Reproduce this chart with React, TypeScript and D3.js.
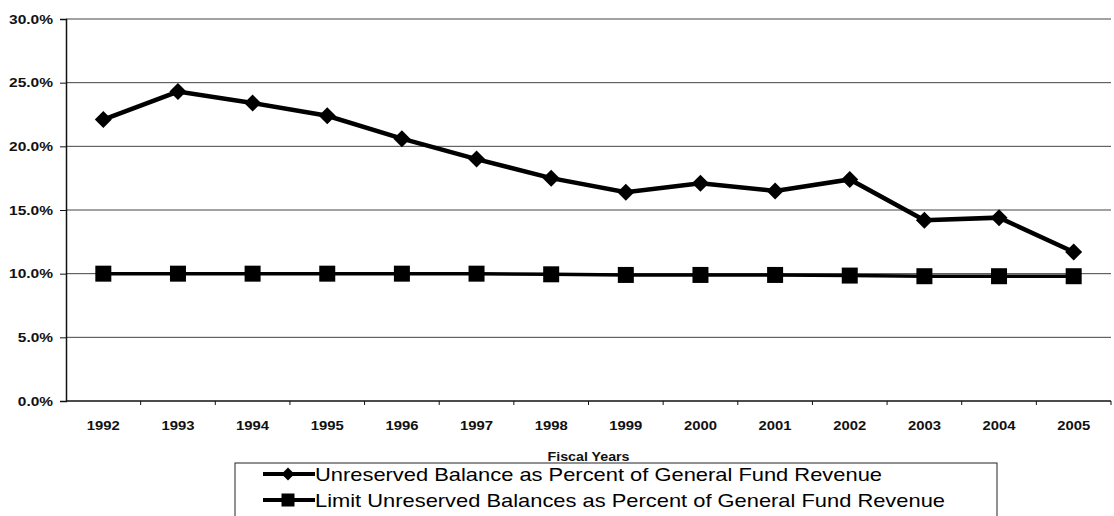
import React, { useRef, useEffect } from "react";
import * as d3 from "d3";

const years = ["1992", "1993", "1994", "1995", "1996", "1997", "1998", "1999", "2000", "2001", "2002", "2003", "2004", "2005"];
const unreserved = [22.1, 24.3, 23.4, 22.4, 20.6, 19.0, 17.5, 16.4, 17.1, 16.5, 17.4, 14.2, 14.4, 11.7];
const limit = [10.0, 10.0, 10.0, 10.0, 10.0, 10.0, 9.95, 9.9, 9.9, 9.9, 9.85, 9.8, 9.8, 9.8];
const yTicks = [0, 5, 10, 15, 20, 25, 30];
const seriesNames = [
  "Unreserved Balance as Percent of General Fund Revenue",
  "Limit Unreserved Balances as Percent of General Fund Revenue",
];

const FONT = "Arial, 'Liberation Sans', sans-serif";

// rotated square, half-diagonal r
const diamondPath = (r: number) => `M0,${-r}L${r},0L0,${r}L${-r},0Z`;
const squarePath = (h: number) => `M${-h},${-h}H${h}V${h}H${-h}Z`;

export default function App() {
  const svgRef = useRef<SVGSVGElement>(null);

  useEffect(() => {
    const svg = d3.select(svgRef.current);
    svg.selectAll("*").remove();

    const width = 1114;
    const height = 516;
    const margin = { top: 19, right: 3, bottom: 115, left: 66 };
    const innerWidth = width - margin.left - margin.right;
    const innerHeight = height - margin.top - margin.bottom;

    const x = d3.scaleBand().domain(years).range([0, innerWidth]);
    const y = d3.scaleLinear().domain([0, 30]).range([innerHeight, 0]);

    const g = svg.append("g").attr("transform", `translate(${margin.left},${margin.top})`);

    // gridlines
    g.selectAll(".grid")
      .data(yTicks.filter((d) => d > 0))
      .enter()
      .append("line")
      .attr("x1", 0)
      .attr("x2", innerWidth)
      .attr("y1", (d) => y(d))
      .attr("y2", (d) => y(d))
      .attr("stroke", "#444")
      .attr("stroke-width", 1);

    // y axis
    const yAxis = g
      .append("g")
      .call(d3.axisLeft(y).tickValues(yTicks).tickSize(6).tickPadding(7).tickFormat((d) => `${(+d).toFixed(1)}%`));
    yAxis.select(".domain").attr("stroke", "#111").attr("stroke-width", 1.5);
    yAxis
      .selectAll("text")
      .attr("font-family", FONT)
      .attr("font-size", 13)
      .attr("font-weight", "bold")
      .attr("fill", "#111")
      .attr("textLength", (d: any) => `${(+d).toFixed(1)}%`.length * 8.8)
      .attr("lengthAdjust", "spacingAndGlyphs");
    yAxis.selectAll("line").attr("stroke", "#111");

    // x axis, ticks on band boundaries
    const xg = g.append("g").attr("transform", `translate(0,${innerHeight})`);
    xg.append("line").attr("x1", 0).attr("x2", innerWidth).attr("stroke", "#111").attr("stroke-width", 1.5);
    xg.selectAll(".tick")
      .data(years)
      .enter()
      .append("line")
      .attr("x1", (d) => (x(d) as number) + x.bandwidth())
      .attr("x2", (d) => (x(d) as number) + x.bandwidth())
      .attr("y1", 0)
      .attr("y2", 4)
      .attr("stroke", "#111");
    xg.selectAll(".lbl")
      .data(years)
      .enter()
      .append("text")
      .attr("x", (d) => (x(d) as number) + x.bandwidth() / 2 - 16.5)
      .attr("y", 29)
      .attr("font-family", FONT)
      .attr("font-size", 13)
      .attr("font-weight", "bold")
      .attr("fill", "#111")
      .attr("textLength", 33)
      .attr("lengthAdjust", "spacingAndGlyphs")
      .text((d) => d);

    xg.append("text")
      .attr("x", innerWidth / 2 - 41)
      .attr("y", 60)
      .attr("font-family", FONT)
      .attr("font-size", 12)
      .attr("font-weight", "bold")
      .attr("fill", "#111")
      .attr("textLength", 82)
      .attr("lengthAdjust", "spacingAndGlyphs")
      .text("Fiscal Years");

    const cx = (i: number) => (x(years[i]) as number) + x.bandwidth() / 2;
    const line = d3
      .line<number>()
      .x((_, i) => cx(i))
      .y((d) => y(d));

    // limit series
    g.append("path").attr("d", line(limit)).attr("fill", "none").attr("stroke", "#000").attr("stroke-width", 3.5);
    g.selectAll(".sq")
      .data(limit)
      .enter()
      .append("path")
      .attr("d", squarePath(8))
      .attr("transform", (d, i) => `translate(${cx(i)},${y(d)})`)
      .attr("fill", "#000");

    // unreserved series
    g.append("path").attr("d", line(unreserved)).attr("fill", "none").attr("stroke", "#000").attr("stroke-width", 4.5);
    g.selectAll(".dm")
      .data(unreserved)
      .enter()
      .append("path")
      .attr("d", diamondPath(8.5))
      .attr("transform", (d, i) => `translate(${cx(i)},${y(d)})`)
      .attr("fill", "#000");

    // legend
    const legend = svg.append("g").attr("transform", "translate(235,463)");
    legend
      .append("rect")
      .attr("x", 0)
      .attr("y", 0)
      .attr("width", 762)
      .attr("height", 60)
      .attr("fill", "#fff")
      .attr("stroke", "#222")
      .attr("stroke-width", 1);

    const textWidths = [567, 630];
    seriesNames.forEach((name, i) => {
      const ly = 11 + i * 26;
      legend.append("line").attr("x1", 28).attr("x2", 80).attr("y1", ly).attr("y2", ly).attr("stroke", "#000").attr("stroke-width", 4);
      legend
        .append("path")
        .attr("d", i === 0 ? diamondPath(6.5) : squarePath(6.5))
        .attr("transform", `translate(53,${ly})`)
        .attr("fill", "#000");
      legend
        .append("text")
        .attr("x", 80)
        .attr("y", ly + 7)
        .attr("font-family", FONT)
        .attr("font-size", 19)
        .attr("fill", "#000")
        .attr("textLength", textWidths[i])
        .attr("lengthAdjust", "spacingAndGlyphs")
        .text(name);
    });
  }, []);

  return (
    <svg
      ref={svgRef}
      width={1114}
      height={516}
      style={{ position: "absolute", left: 0, top: 0, background: "#fff" }}
    />
  );
}
